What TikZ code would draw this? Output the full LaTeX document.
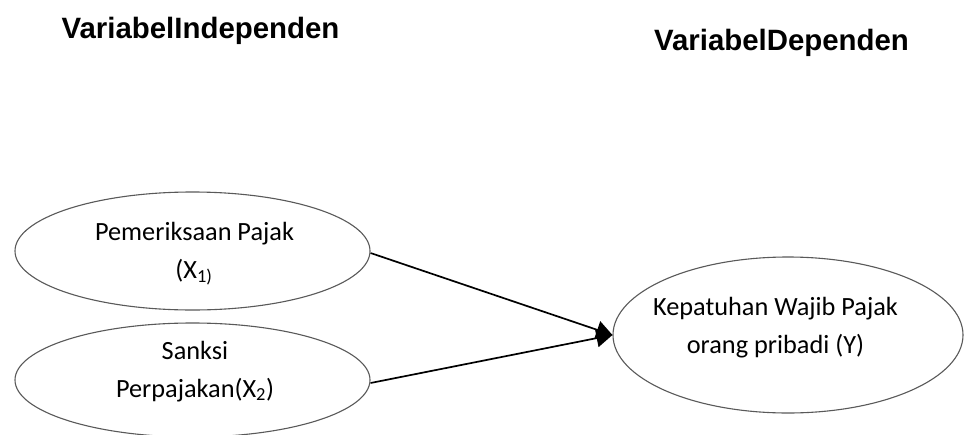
\documentclass[tikz,border=0pt]{standalone}
\usepackage{fontspec}
\setmainfont{Carlito}
\newfontfamily\titlefont{Liberation Sans}
\usetikzlibrary{shapes.geometric,arrows.meta}
\tikzset{
  var/.style={ellipse, draw=black!65, line width=1.1pt, inner sep=0pt},
  lbl/.style={align=center, font=\fontsize{26.3}{38}\selectfont, inner sep=0pt},
  ttl/.style={font=\titlefont\bfseries\fontsize{29.4}{34}\selectfont, inner sep=0pt, anchor=base},
  conn/.style={line width=1.7pt, -{Triangle[length=16pt,width=18pt]}},
}
\begin{document}
\begin{tikzpicture}[x=1pt,y=-1pt]
\useasboundingbox (0,0) rectangle (964,434);
\fill[white] (0,0) rectangle (964,434);
\node[ttl] (t1) at (200.5,38) {VariabelIndependen};
\node[ttl] (t2) at (781.5,50) {VariabelDependen};
\node[var, minimum width=355pt, minimum height=118pt] (x1) at (192.5,251) {};
\node[var, minimum width=355pt, minimum height=114pt] (x2) at (192.5,380) {};
\node[var, minimum width=350pt, minimum height=156pt] (y) at (788,335) {};
\node[lbl, anchor=base] (l1a) at (194.5,240) {Pemeriksaan Pajak};
\node[lbl, anchor=base] (l1b) at (194,278) {(X\textsubscript{1)}};
\node[lbl, anchor=base] (l2a) at (195,359) {Sanksi};
\node[lbl, anchor=base] (l2b) at (195,397) {Perpajakan(X\textsubscript{2})};
\node[lbl, anchor=base] (l3a) at (775.5,315) {Kepatuhan Wajib Pajak};
\node[lbl, anchor=base] (l3b) at (775.5,353) {orang pribadi (Y)};
\draw[conn] (x1.east) ++(0,2) coordinate (s1) -- (y.west);
\draw[conn] (x2.east) ++(0,3) coordinate (s2) -- (y.west);
\end{tikzpicture}
\end{document}
